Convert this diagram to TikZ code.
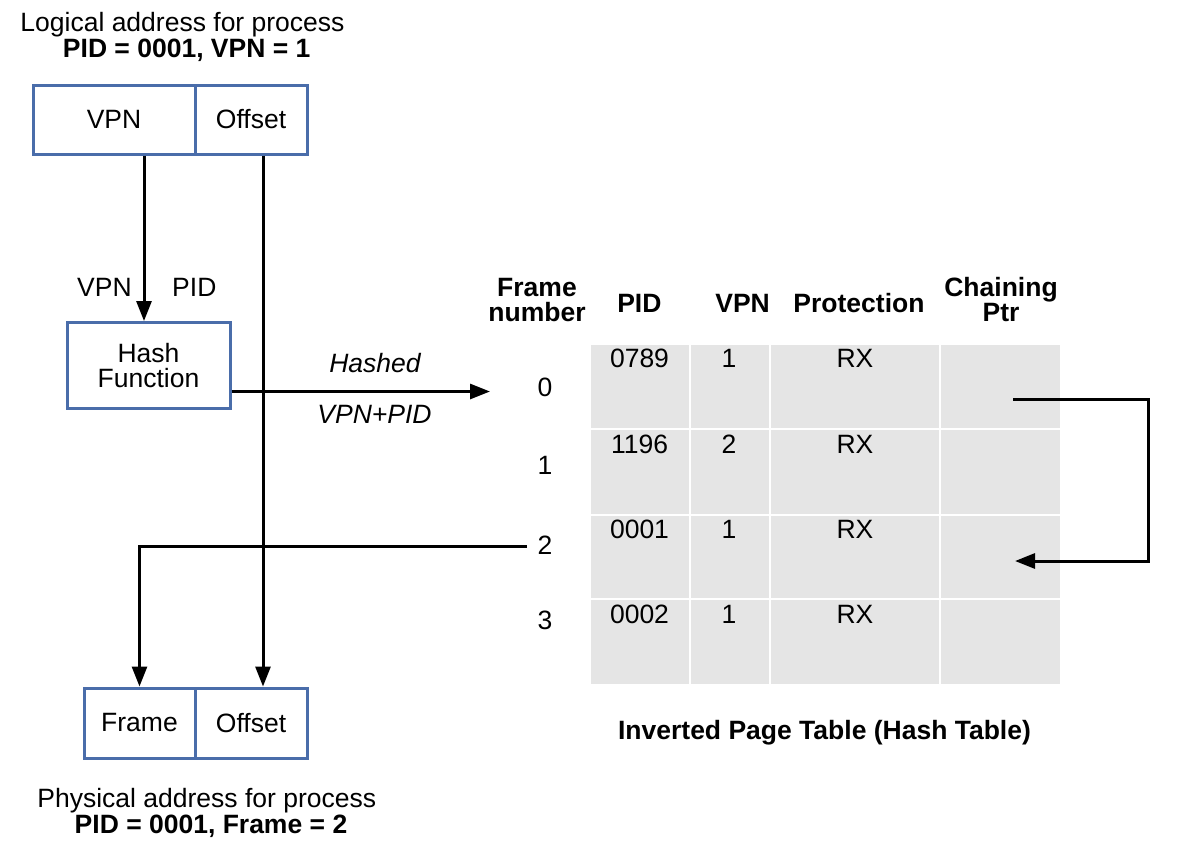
\documentclass[tikz,border=0pt]{standalone}
\usepackage{fontspec}
\setmainfont{Liberation Sans}
\usetikzlibrary{arrows.meta}
\definecolor{boxblue}{HTML}{4A6DAA}
\definecolor{cellgray}{HTML}{E5E5E5}
\begin{document}
\begin{tikzpicture}[x=1pt,y=-1pt,
  txt/.style={inner sep=0pt, anchor=base, font=\fontsize{26.5}{25}\selectfont},
  btxt/.style={txt, font=\fontsize{26.5}{25}\selectfont\bfseries},
  itxt/.style={txt, font=\fontsize{26.5}{25}\selectfont\itshape},
  twoline/.style={inner sep=0pt, anchor=center, align=center, font=\fontsize{26.5}{25}\selectfont\bfseries},
  addrbox/.style={draw=boxblue, line width=3pt, inner sep=0pt, font=\fontsize{26.5}{25}\selectfont},
  arr/.style={line width=3pt, -{Triangle[length=20pt,width=15pt]}},
  conn/.style={line width=3pt}
]
\useasboundingbox (0,0) rectangle (1188,852);

% titles
\node[txt]  (t1) at (182.5,31) {Logical address for process};
\node[btxt] (t2) at (186.7,57) {PID = 0001, VPN = 1};
\node[txt]  (p1) at (206.8,807.5) {Physical address for process};
\node[btxt] (p2) at (211,833.5) {PID = 0001, Frame = 2};

% logical address box
\node[addrbox, minimum width=162pt, minimum height=69pt] (vpn) at (114,119.5) {VPN};
\node[addrbox, minimum width=112pt, minimum height=69pt] (off1) at (251,119.5) {Offset};

% hash function
\node[addrbox, minimum width=163pt, minimum height=86pt, align=center] (hash) at (148.5,365.5) {Hash\\Function};
\node[txt] (lvpn) at (104.4,296.5) {VPN};
\node[txt] (lpid) at (194.3,296.5) {PID};

% physical address box
\node[addrbox, minimum width=111pt, minimum height=70pt] (fr) at (139.5,723) {Frame};
\node[addrbox, minimum width=112pt, minimum height=70pt] (off2) at (251,723) {Offset};

% table
\fill[cellgray] (591,345) rectangle (1060,684);
\foreach \x in {690,770,940} \draw[white, line width=2pt] (\x,345) -- (\x,684);
\foreach \y in {429,515,599} \draw[white, line width=2pt] (591,\y) -- (1060,\y);

\node[twoline] (hframe) at (537,300.5) {Frame\\number};
\node[btxt] (hpid) at (639.4,312.5) {PID};
\node[btxt] (hvpn) at (742.6,312.5) {VPN};
\node[btxt] (hprot) at (859,312.5) {Protection};
\node[twoline] (hchain) at (1001,299.5) {Chaining\\Ptr};

\foreach \i/\b/\p/\v in {0/367.5/0789/1, 1/453.5/1196/2, 2/538.5/0001/1, 3/623.5/0002/1}{
  \node[txt] (pid\i) at (639.5,\b) {\p};
  \node[txt] (vpn\i) at (729,\b) {\v};
  \node[txt] (rx\i) at (855,\b) {RX};
}
\node[txt] (f0) at (545,396.5) {0};
\node[txt] (f1) at (545,474.5) {1};
\node[txt] (f2) at (545,554.5) {2};
\node[txt] (f3) at (545,629.5) {3};

\node[btxt] (cap) at (824.5,739.5) {Inverted Page Table (Hash Table)};

% connectors
\coordinate (hx) at (144,0);
\coordinate (ox) at (263,0);
\coordinate (fx) at (139.5,0);
\coordinate (t0) at (490,391.5);
\coordinate (e2) at (527,546);
\coordinate (c0) at (1013,399);
\coordinate (c2) at (1015,561);

\draw[arr] (vpn.south -| hx) -- (hash.north -| hx);
\draw[arr] (off1.south -| ox) -- (off2.north -| ox);
\draw[arr] (hash.east |- t0) -- (t0);
\node[itxt] (hashed) at (375,372.5) {Hashed};
\node[itxt] (vp) at (374.5,423.5) {VPN+PID};
\draw[arr] (e2) -| (fr.north -| fx);
\draw[arr] (c0) -- ++(135,0) |- (c2);
\end{tikzpicture}
\end{document}
